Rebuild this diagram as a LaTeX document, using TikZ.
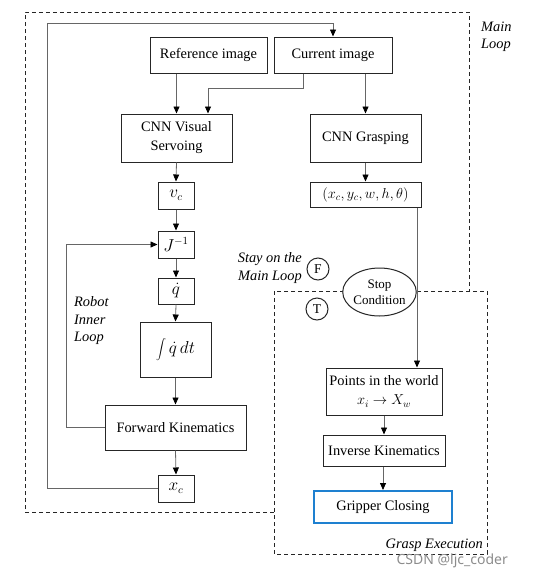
\documentclass[tikz,border=0pt]{standalone}
\usepackage{fontspec}
\setmainfont{Liberation Serif}
\newfontfamily\markfont{Noto Sans}
\usetikzlibrary{positioning,arrows.meta,shapes.geometric}
\definecolor{gripblue}{RGB}{30,128,208}

\begin{document}
\begin{tikzpicture}[x=1pt, y=-1pt,
  box/.style={draw=black!85, line width=1pt, shape=rectangle, inner sep=1pt, align=center, font=\fontsize{14.4}{19}\selectfont},
  mathbox/.style={box, font=\fontsize{16}{20}\selectfont},
  link/.style={draw=black!60, line width=0.8pt, -{Triangle[length=7pt, width=6pt, color=black]}},
  loopline/.style={draw=black!85, line width=0.9pt, dash pattern=on 4pt off 3pt},
  note/.style={inner sep=0pt, font=\fontsize{14.4}{17.5}\selectfont\itshape},
  flag/.style={draw=black!85, line width=1pt, circle, minimum size=22pt, inner sep=0pt, font=\fontsize{13.5}{16}\selectfont}]
\useasboundingbox (0,0) rectangle (546,579);
\draw[loopline] (274,512) -- (25,512) -- (25,12) -- (469,12) -- (469,291);
\draw[loopline] (274,291) rectangle (487,554);
\node[box, minimum width=117pt, minimum height=36pt] (1) at (208.5,55) {Reference image};
\node[box, minimum width=118pt, minimum height=36pt] (2) at (333,55) {Current image};
\node[box, minimum width=111pt, minimum height=48pt] (3) at (176.5,138) {CNN Visual\\Servoing};
\node[box, minimum width=111pt, minimum height=48pt] (4) at (365.5,138) {CNN Grasping};
\node[mathbox, minimum width=36pt, minimum height=27pt] (5) at (176,195.5) {$v_c$};
\node[box, minimum width=111pt, minimum height=25pt] (6) at (365.5,194.5) {$(x_c, y_c, w, h, \theta)$};
\node[mathbox, minimum width=36pt, minimum height=27pt] (7) at (176,244.5) {$J^{-1}$};
\node[mathbox, minimum width=36pt, minimum height=26pt] (8) at (176,291) {$\dot{q}$};
\node[mathbox, minimum width=71pt, minimum height=55pt] (9) at (175.5,349.5) {$\displaystyle\int \dot{q}\,dt$};
\node[box, minimum width=141pt, minimum height=45pt] (10) at (175.5,427.5) {Forward Kinematics};
\node[mathbox, minimum width=36pt, minimum height=27pt] (11) at (176,488.5) {$x_c$};
\node[box, minimum width=116pt, minimum height=47pt] (12) at (384,391.5) {Points in the world\\$x_i \rightarrow X_w$};
\node[box, minimum width=122pt, minimum height=31pt] (13) at (384,450.5) {Inverse Kinematics};
\node[box, draw=gripblue, line width=2pt, minimum width=138pt, minimum height=32pt] (14) at (383,507) {Gripper Closing};
\node[box, ellipse, fill=white, minimum width=69pt, minimum height=48pt, inner sep=0pt, font=\fontsize{13}{16}\selectfont] (15) at (379.5,292) {Stop\\Condition};
\node[flag] (16) at (318,269) {F};
\node[flag] (17) at (317,309) {T};
\node[note, align=left, anchor=west] (18) at (481,37) {Main\\Loop};
\node[note, align=right, anchor=east] (19) at (302,268) {Stay on the\\Main Loop};
\node[note, align=left, anchor=west] (20) at (74,321) {Robot\\Inner\\Loop};
\node[note, anchor=east] (21) at (483,545) {Grasp Execution};
\node[inner sep=0pt, anchor=east, text=black!45, font=\markfont\fontsize{14}{16}\selectfont] (22) at (508,561) {CSDN @ljc\_coder};
% main loop feedback
\draw[link] (11.west) -| (47,23) -| (2.north);
\draw[link] (1.south -| 3.north) -- (3.north);
\draw[link] ([xshift=-30pt]2.south) -- ++(0,15) -| ([xshift=31.5pt]3.north);
\draw[link] (4.north |- 2.south) -- (4.north);
\draw[link] (3.south) -- (5.north);
\draw[link] (5.south) -- (7.north);
\draw[link] (7.south) -- (8.north);
\draw[link] (8.south) -- (9.north);
\draw[link] (9.south) -- (10.north);
\draw[link] (10.south) -- (11.north);
% robot inner loop
\draw[link] (10.west) -- ++(-38,0) |- (7.west);
\draw[link] (4.south) -- (6.north);
\draw[link] ([xshift=51.5pt]6.south) -- ([xshift=51.5pt]6.south |- 12.north);
\draw[link] (12.south) -- (13.north);
\draw[link] (13.south -| 14.north) -- (14.north);
\end{tikzpicture}
\end{document}
